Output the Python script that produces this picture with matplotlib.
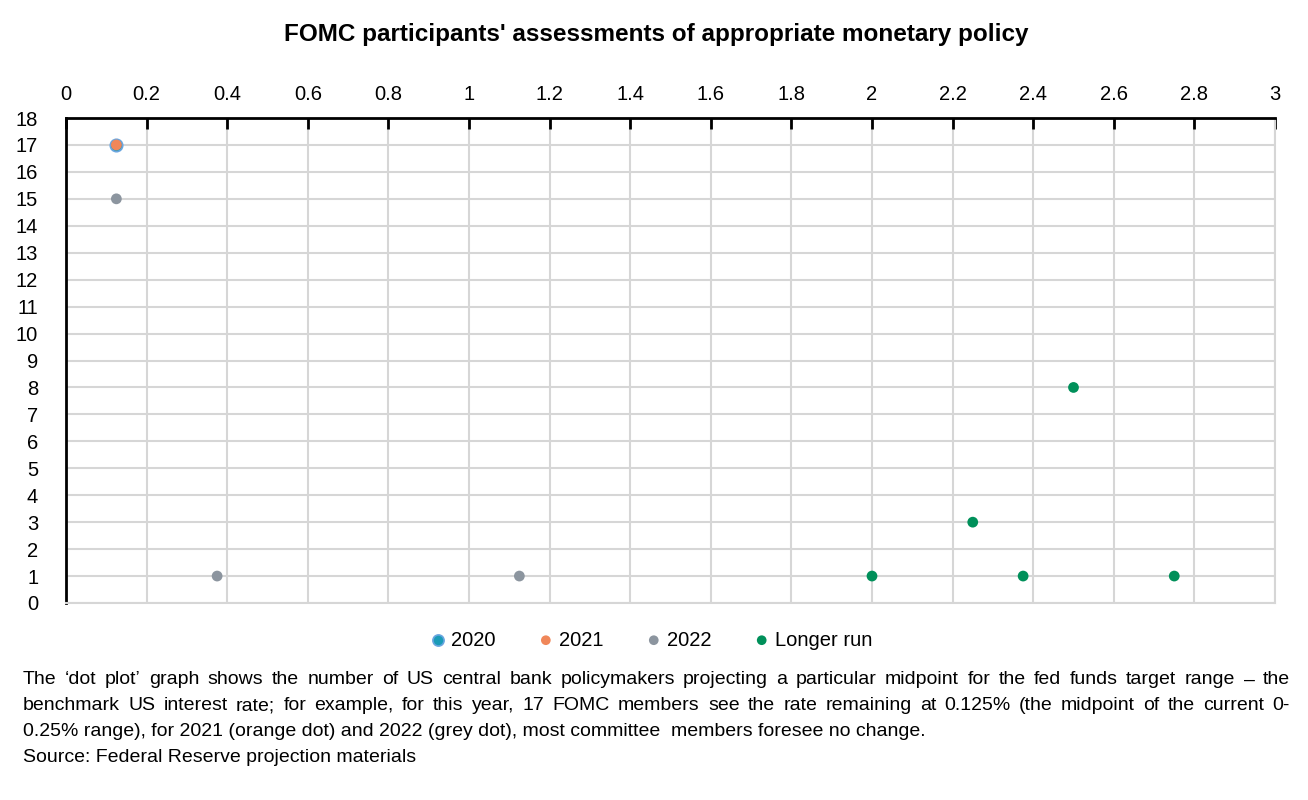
import matplotlib
matplotlib.use("Agg")
import matplotlib.pyplot as plt
from matplotlib.font_manager import fontManager

names = {f.name for f in fontManager.ttflist}
FONT = "Liberation Sans Narrow" if "Liberation Sans Narrow" in names else "Liberation Sans"
plt.rcParams['font.family'] = [FONT, 'DejaVu Sans']

title = "FOMC participants' assessments of appropriate monetary policy"
series_names = ["2020", "2021", "2022", "Longer run"]
x2020 = [0.125]
y2020 = [17]
x2021 = [0.125]
y2021 = [17]
x2022 = [0.125, 0.375, 1.125]
y2022 = [15, 1, 1]
xlong = [2.0, 2.25, 2.375, 2.5, 2.75]
ylong = [1, 3, 1, 8, 1]
xticks = [0, 0.2, 0.4, 0.6, 0.8, 1, 1.2, 1.4, 1.6, 1.8, 2, 2.2, 2.4, 2.6, 2.8, 3]
xticklabels = ["0", "0.2", "0.4", "0.6", "0.8", "1", "1.2", "1.4", "1.6", "1.8", "2",
               "2.2", "2.4", "2.6", "2.8", "3"]
yticks = list(range(0, 19))
note_lines = [
    "The \u2018dot plot\u2019 graph shows the number of US central bank policymakers  projecting a particular midpoint for the fed funds target range \u2013 the",
    "benchmark  US interest rate; for example,  for this year, 17 FOMC members see the rate remaining at 0.125% (the midpoint  of the current 0-",
    "0.25% range), for 2021 (orange dot) and 2022 (grey dot), most committee  members foresee no change.",
    "Source: Federal Reserve projection materials",
]

fig = plt.figure(figsize=(13.08, 8), dpi=100)
ax = fig.add_axes([66/1308, 1-603/800, (1275-66)/1308, (603-118)/800])

grid_c = "#d6d6d6"
ax.set_xlim(0, 3)
ax.set_ylim(0, 18)
ax.set_xticks(xticks)
ax.set_xticklabels(xticklabels)
ax.set_yticks(yticks)
ax.xaxis.tick_top()
ax.grid(True, color=grid_c, linewidth=1.5, zorder=0)
ax.set_axisbelow(True)
for s in ["bottom", "right"]:
    ax.spines[s].set_color(grid_c)
    ax.spines[s].set_linewidth(1.5)
for s in ["top", "left"]:
    ax.spines[s].set_color("black")
    ax.spines[s].set_linewidth(2)
ax.tick_params(axis='x', which='both', direction='in', length=8, width=2, color='black',
               labelsize=14.5, pad=10)
ax.tick_params(axis='y', length=0, labelsize=14.5, pad=20)

ms = 60
ax.scatter(x2020, y2020, s=ms+20, color="#1b9bb8", edgecolors="#6aa6e0", linewidths=1.2,
           label=series_names[0], zorder=3)
ax.scatter(x2021, y2021, s=ms, color="#f0875a", edgecolors="none", label=series_names[1], zorder=4)
ax.scatter(x2022, y2022, s=ms, color="#8c959f", edgecolors="none", label=series_names[2], zorder=3)
ax.scatter(xlong, ylong, s=ms, color="#00905a", edgecolors="none", label=series_names[3], zorder=3)

fig.text(656/1308, 1-35/800, title, ha='center', va='center', fontsize=17.5, fontweight='bold')

leg = fig.legend(loc='center', bbox_to_anchor=(650/1308, 1-640/800), ncol=4, frameon=False,
                 fontsize=14.5, handletextpad=0.15, columnspacing=2.0, markerscale=0.9,
                 scatterpoints=1, handlelength=1.0)

# footnote, justified lines
left_px, right_px = 23, 1290
ys = [680, 706, 731, 757]
fig.canvas.draw()
r = fig.canvas.get_renderer()
fs = 14
for i, (line, ypx) in enumerate(zip(note_lines, ys)):
    yf = 1 - ypx/800
    if i < 2:
        words = line.split()
        ts = [fig.text(0, yf, w, fontsize=fs, va='center', ha='left') for w in words]
        widths = [t.get_window_extent(renderer=r).width for t in ts]
        gap = (right_px - left_px - sum(widths)) / (len(words) - 1)
        x = left_px
        for t, w in zip(ts, widths):
            t.set_x(x/1308)
            x += w + gap
    else:
        fig.text(left_px/1308, yf, line, fontsize=fs, va='center', ha='left')

fig.savefig("out.png", dpi=100)
